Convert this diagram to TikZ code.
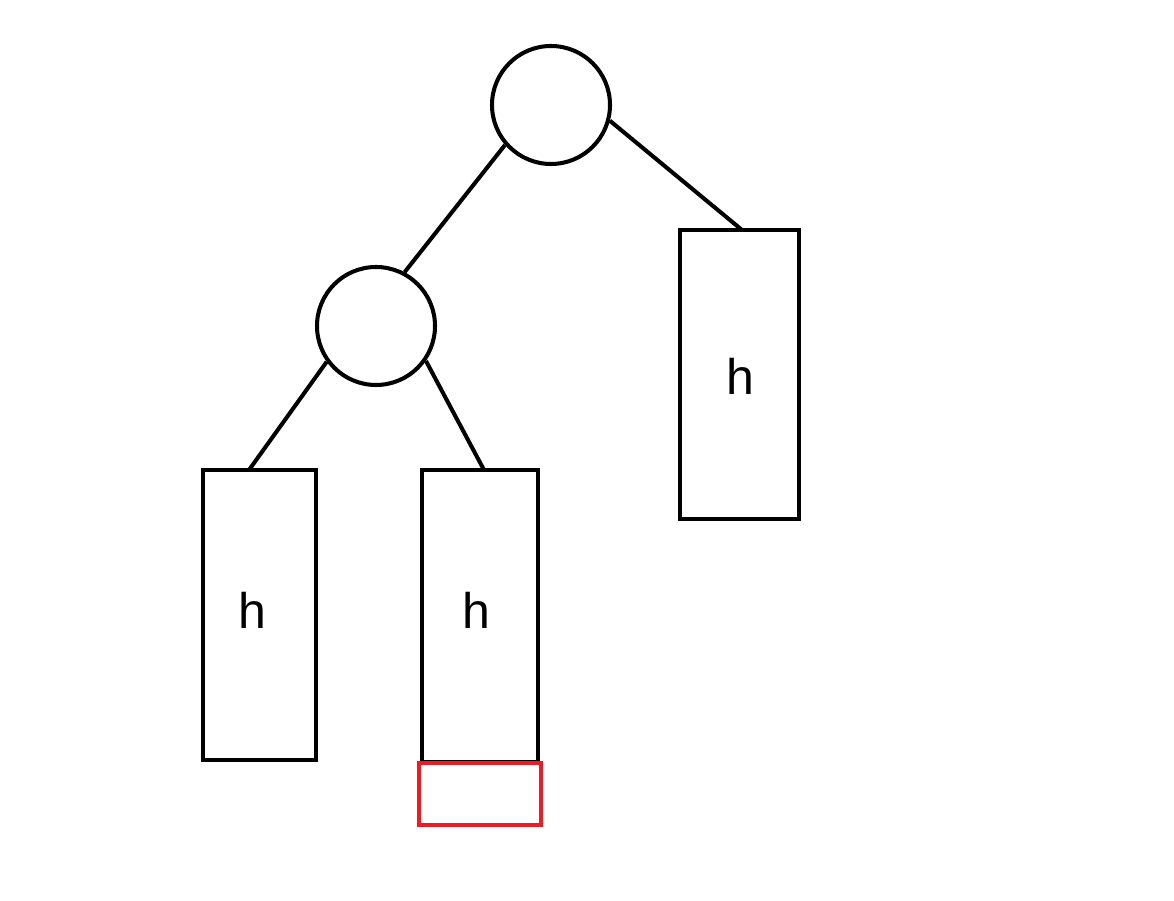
\documentclass[tikz,border=0pt]{standalone}
\usepackage{fontspec}
\setmainfont{Liberation Sans}
\definecolor{paintred}{RGB}{237,28,36}
\begin{document}
\begin{tikzpicture}[x=0.02cm,y=-0.02cm,
  lw/.style={line width=2.3pt},
  circ/.style={lw,draw,circle,minimum size=118*0.02cm,inner sep=0pt},
  sub/.style={lw,draw,rectangle,inner sep=0pt},
  lab/.style={inner sep=0pt,font=\fontsize{28.5}{30}\selectfont},
  edge/.style={lw}]
\useasboundingbox (0,0) rectangle (1174,901);
\node[circ] (c1) at (551,105) {};
\node[circ] (c2) at (376,326) {};
\node[sub,minimum width=119*0.02cm,minimum height=289*0.02cm] (r3) at (739.5,374.5) {};
\node[sub,minimum width=113*0.02cm,minimum height=290*0.02cm] (r1) at (259.5,615) {};
\node[sub,minimum width=116*0.02cm,minimum height=292*0.02cm] (r2) at (480,616) {};
\node[lab] (h3) at (740,376) {h};
\node[lab] (h1) at (252,610) {h};
\node[lab] (h2) at (476.5,610) {h};
\node[lw,draw=paintred,rectangle,minimum width=122*0.02cm,minimum height=62*0.02cm,inner sep=0pt] (red) at (480,794) {};
\coordinate (t3) at (742,230);
\coordinate (t1) at (249,470);
\coordinate (t2) at (484,470);
\draw[edge] (c1.221) -- (c2.62);
\draw[edge] (c1.-15) -- (t3);
\draw[edge] (c2.216) -- (t1);
\draw[edge] (c2.-35) -- (t2);
\end{tikzpicture}
\end{document}
